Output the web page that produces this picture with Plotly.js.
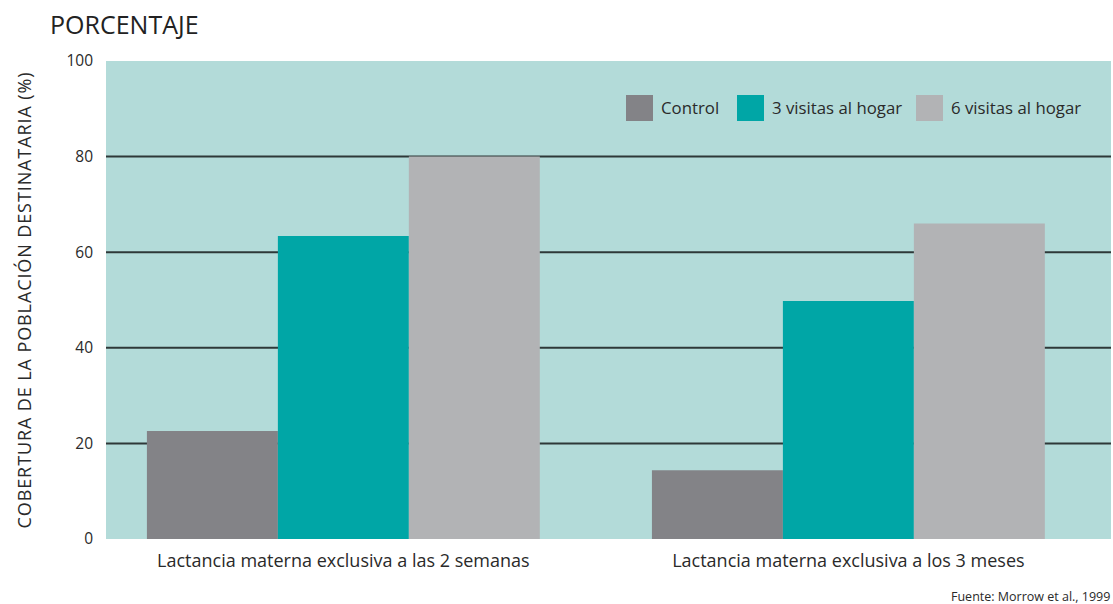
<!DOCTYPE html>
<html>
<head>
<meta charset="utf-8">
<script src="https://cdn.plot.ly/plotly-3.0.1.min.js"></script>
<style>html,body{margin:0;padding:0;background:#fff;}#chart{width:1113px;height:604px;}
#chart .ytitle{letter-spacing:0.9px;}</style>
</head>
<body>
<div id="chart"></div>
<script>
const categories = ["Lactancia materna exclusiva a las 2 semanas", "Lactancia materna exclusiva a los 3 meses"];
const seriesNames = ["Control", "3 visitas al hogar", "6 visitas al hogar"];
const controlValues = [22.6, 14.4];
const visitas3Values = [63.4, 49.8];
const visitas6Values = [80, 66];
const yTickVals = [0, 20, 40, 60, 80, 100];
const gridVals = [20, 40, 60, 80];
const colors = ["#838387", "#00a6a6", "#b2b3b5"];

const FONT = "'Open Sans', Lato, sans-serif";
const xIdx = categories.map((c, i) => i);
const seriesValues = [controlValues, visitas3Values, visitas6Values];

const traces = seriesValues.map((vals, k) => ({
  type: "bar",
  x: xIdx,
  y: vals,
  name: seriesNames[k],
  marker: {color: colors[k], line: {width: 0}},
  showlegend: false,
  hoverinfo: "y"
}));

const shapes = gridVals.map(v => ({
  type: "line", xref: "paper", yref: "y", x0: 0, x1: 1, y0: v, y1: v,
  line: {color: "#2e3838", width: 2}, layer: "below"
}));

// manual legend (paper coords)
const plotL = 106, plotR = 1111, plotT = 61, plotB = 539;
const px = x => (x - plotL) / (plotR - plotL);
const py = y => (plotB - y) / (plotB - plotT);
const legendX = [626, 737, 916];
const annotations = [];
seriesNames.forEach((n, k) => {
  shapes.push({
    type: "rect", xref: "paper", yref: "paper",
    x0: px(legendX[k]), x1: px(legendX[k] + 27), y0: py(121), y1: py(95),
    fillcolor: colors[k], line: {width: 0}
  });
  annotations.push({
    xref: "paper", yref: "paper", x: px(legendX[k] + 33), y: py(108),
    xanchor: "left", yanchor: "middle", showarrow: false, text: n,
    font: {family: FONT, size: 16.8, color: "#2a2a2a"}
  });
});
annotations.push({
  xref: "paper", yref: "paper", x: px(1112), y: py(596),
  xanchor: "right", yanchor: "middle", showarrow: false,
  text: "Fuente: Morrow et al., 1999",
  font: {family: FONT, size: 12.5, color: "#2a2a2a"}
});
annotations.push({
  xref: "paper", yref: "paper", x: px(48), y: py(24),
  xanchor: "left", yanchor: "middle", showarrow: false,
  text: "PORCENTAJE",
  font: {family: FONT, size: 25, color: "#222"}
});

const layout = {
  width: 1113, height: 604,
  margin: {l: 106, r: 2, t: 61, b: 65},
  paper_bgcolor: "#ffffff",
  plot_bgcolor: "#b3dbd9",
  bargap: 0.222, bargroupgap: 0,
  barmode: "group",
  font: {family: FONT, color: "#2a2a2a"},
  xaxis: {
    tickvals: xIdx, ticktext: categories,
    range: [-0.47, 1.52],
    showgrid: false, zeroline: false, showline: false,
    ticks: "", ticklabelstandoff: 9,
    tickfont: {family: FONT, size: 18, color: "#2a2a2a"}
  },
  yaxis: {
    range: [0, 100], tickvals: yTickVals,
    showgrid: false, zeroline: false, showline: false,
    ticks: "", ticklabelstandoff: 12,
    tickfont: {family: FONT, size: 15.5, color: "#2a2a2a"},
    title: {text: "COBERTURA DE LA POBLACIÓN DESTINATARIA (%)", standoff: 30,
      font: {family: FONT, size: 18, color: "#2a2a2a"}}
  },
  shapes: shapes,
  annotations: annotations
};

Plotly.newPlot("chart", traces, layout, {displayModeBar: false, staticPlot: true});
</script>
</body>
</html>
